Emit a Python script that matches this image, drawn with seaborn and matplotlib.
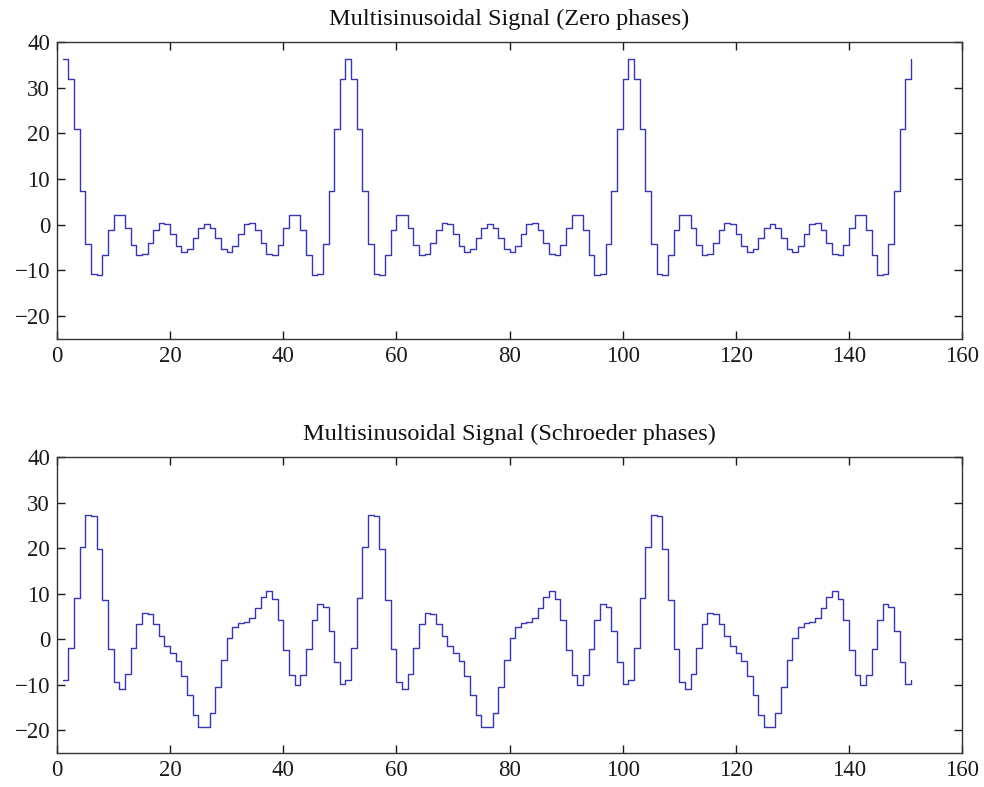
import numpy as np
import pandas as pd
import matplotlib
matplotlib.use("Agg")
import matplotlib.pyplot as plt
import seaborn as sns

# Sample index
n = list(range(1, 152))

# Zero-phase multisine
zero_phase = [
    36.2, 32.0, 21.0, 7.3, -4.3, -10.7, -10.9, -6.6, -1.2, 2.1,
    2.1, -0.8, -4.4, -6.7, -6.3, -4.0, -1.1, 0.4, 0.1, -2.1,
    -4.7, -5.9, -5.3, -3.0, -0.7, 0.1, -0.7, -3.0, -5.3, -5.9,
    -4.7, -2.1, 0.1, 0.4, -1.1, -4.0, -6.3, -6.7, -4.4, -0.8,
    2.1, 2.1, -1.2, -6.6, -10.9, -10.7, -4.3, 7.3, 21.0, 32.0,
    36.2, 32.0, 21.0, 7.3, -4.3, -10.7, -10.9, -6.6, -1.2, 2.1,
    2.1, -0.8, -4.4, -6.7, -6.3, -4.0, -1.1, 0.4, 0.1, -2.1,
    -4.7, -5.9, -5.3, -3.0, -0.7, 0.1, -0.7, -3.0, -5.3, -5.9,
    -4.7, -2.1, 0.1, 0.4, -1.1, -4.0, -6.3, -6.7, -4.4, -0.8,
    2.1, 2.1, -1.2, -6.6, -10.9, -10.7, -4.3, 7.3, 21.0, 32.0,
    36.2, 32.0, 21.0, 7.3, -4.3, -10.7, -10.9, -6.6, -1.2, 2.1,
    2.1, -0.8, -4.4, -6.7, -6.3, -4.0, -1.1, 0.4, 0.1, -2.1,
    -4.7, -5.9, -5.3, -3.0, -0.7, 0.1, -0.7, -3.0, -5.3, -5.9,
    -4.7, -2.1, 0.1, 0.4, -1.1, -4.0, -6.3, -6.7, -4.4, -0.8,
    2.1, 2.1, -1.2, -6.6, -10.9, -10.7, -4.3, 7.3, 21.0, 32.0,
    36.2,
]

# Schroeder-phase multisine
schroeder = [
    -9.0, -2.0, 9.1, 20.3, 27.2, 27.0, 19.9, 8.7, -2.2, -9.4,
    -10.9, -7.6, -1.9, 3.3, 5.7, 5.5, 3.3, 0.7, -1.5, -3.0,
    -4.8, -8.0, -12.2, -16.6, -19.4, -19.4, -16.2, -10.5, -4.5, 0.2,
    2.7, 3.5, 3.7, 4.7, 6.9, 9.3, 10.5, 8.8, 4.2, -2.3,
    -7.8, -10.0, -7.8, -2.2, 4.2, 7.8, 7.0, 1.7, -5.0, -9.8,
    -9.0, -2.0, 9.1, 20.3, 27.2, 27.0, 19.9, 8.7, -2.2, -9.4,
    -10.9, -7.6, -1.9, 3.3, 5.7, 5.5, 3.3, 0.7, -1.5, -3.0,
    -4.8, -8.0, -12.2, -16.6, -19.4, -19.4, -16.2, -10.5, -4.5, 0.2,
    2.7, 3.5, 3.7, 4.7, 6.9, 9.3, 10.5, 8.8, 4.2, -2.3,
    -7.8, -10.0, -7.8, -2.2, 4.2, 7.8, 7.0, 1.7, -5.0, -9.8,
    -9.0, -2.0, 9.1, 20.3, 27.2, 27.0, 19.9, 8.7, -2.2, -9.4,
    -10.9, -7.6, -1.9, 3.3, 5.7, 5.5, 3.3, 0.7, -1.5, -3.0,
    -4.8, -8.0, -12.2, -16.6, -19.4, -19.4, -16.2, -10.5, -4.5, 0.2,
    2.7, 3.5, 3.7, 4.7, 6.9, 9.3, 10.5, 8.8, 4.2, -2.3,
    -7.8, -10.0, -7.8, -2.2, 4.2, 7.8, 7.0, 1.7, -5.0, -9.8,
    -9.0,
]

titles = ["Multisinusoidal Signal (Zero phases)",
          "Multisinusoidal Signal (Schroeder phases)"]
x_ticks = [0, 20, 40, 60, 80, 100, 120, 140, 160]
y_ticks = [-20, -10, 0, 10, 20, 30, 40]

sns.set_theme(style="white")
plt.rcParams["font.family"] = ["Liberation Serif", "DejaVu Serif"]

W, H = 984, 787
fig = plt.figure(figsize=(W / 100, H / 100), dpi=100)
fig.patch.set_facecolor("white")

boxes = [(57, 42, 962, 339), (57, 457, 962, 753)]
series = [zero_phase, schroeder]

for (l, t, r, b), vals, title in zip(boxes, series, titles):
    ax = fig.add_axes([l / W, 1 - b / H, (r - l) / W, (b - t) / H])
    df = pd.DataFrame({"n": n, "v": vals})
    sns.lineplot(data=df, x="n", y="v", ax=ax, color="#3636b4", lw=1.0,
                 drawstyle="steps-post", estimator=None)
    ax.set_xlim(0, 160)
    ax.set_ylim(-25, 40)
    ax.set_xticks(x_ticks)
    ax.set_yticks(y_ticks)
    ax.set_xticklabels([str(v) for v in x_ticks])
    ax.set_yticklabels([str(v).replace("-", "\u2212") for v in y_ticks])
    ax.set_xlabel("")
    ax.set_ylabel("")
    ax.set_title(title, fontsize=17.5, pad=12, color="#111111")
    ax.tick_params(direction="in", length=6, width=1, top=True, right=True,
                   bottom=True, left=True, labelsize=16.5, colors="#1a1a1a",
                   pad=5)
    for s in ax.spines.values():
        s.set_visible(True)
        s.set_color("#333333")
        s.set_linewidth(1.0)
    ax.grid(False)
    ax.set_facecolor("white")

fig.savefig("out.png", dpi=100, facecolor="white")
